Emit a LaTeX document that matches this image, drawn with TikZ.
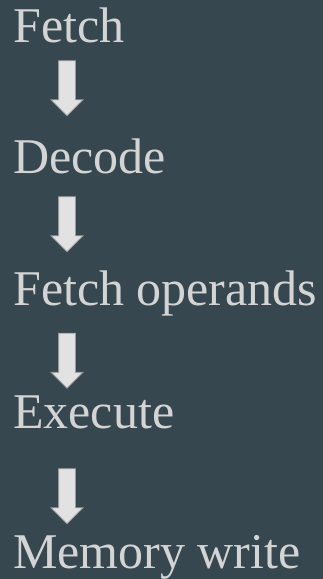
\documentclass[tikz,border=0pt]{standalone}
\usepackage{fontspec}
\setmainfont{Liberation Serif}
\usetikzlibrary{shapes.arrows}
\definecolor{slate}{HTML}{37474F}
\definecolor{steptext}{HTML}{D4D4D4}
\definecolor{arrowfill}{HTML}{E2E2E2}
\definecolor{arrowline}{HTML}{9A9A9A}

\begin{document}
\begin{tikzpicture}
  [x=1pt,y=-1pt,
 stage/.style={
  anchor=base west,
  inner sep=0pt,
  text=steptext,
  font=\fontsize{50}{60}\selectfont},
 down/.style={
  single arrow,
  shape border rotate=270,
  draw=arrowline,
  line width=0.8pt,
  fill=arrowfill,
  inner sep=8pt,
  minimum height=55pt,
  single arrow head extend=7.5pt,
  single arrow head indent=0pt}]
\fill[slate] (0,0) rectangle (323,579);
\useasboundingbox (0,0) rectangle (323,579);
\node (fetch) [stage] at (13,42) {Fetch};
\node (decode) [stage] at (13,173) {Decode};
\node (operands) [stage] at (13,305) {Fetch operands};
\node (execute) [stage] at (13,428) {Execute};
\node (write) [stage] at (13,568) {Memory write};
\node (fd) [down] at (67,84) {};
\node (do) [down] at (67,220) {};
\node (oe) [down] at (67,356.5) {};
\node (ew) [down] at (67,492) {};
\end{tikzpicture}
\end{document}
